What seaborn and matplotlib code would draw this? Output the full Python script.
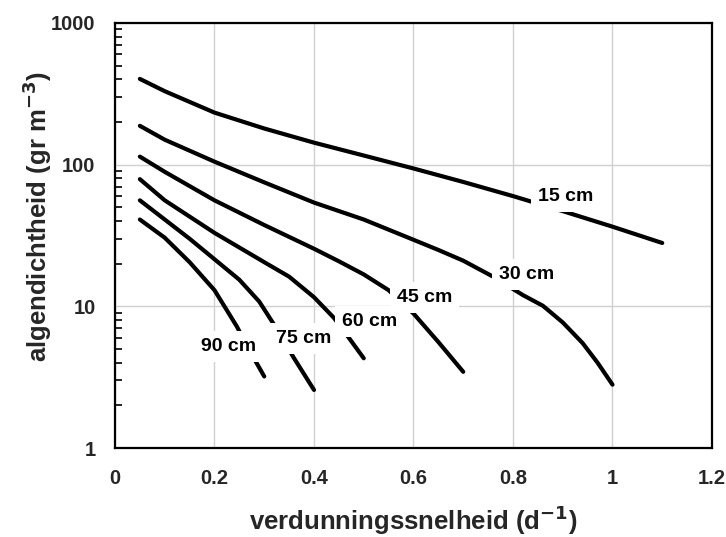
import matplotlib
matplotlib.use("Agg")
import matplotlib.pyplot as plt
import seaborn as sns
import pandas as pd
from matplotlib.ticker import FixedLocator, LogLocator, NullFormatter

# Algal density versus dilution rate for different pond depths
x15 = [0.05, 0.1, 0.2, 0.3, 0.4, 0.5, 0.6, 0.7, 0.8, 0.9, 1.0, 1.1]
y15 = [403, 330, 233, 180, 143, 116, 94, 75.5, 60, 47, 36.5, 28]

x30 = [0.05, 0.1, 0.2, 0.3, 0.4, 0.5, 0.6, 0.65, 0.7, 0.76, 0.82, 0.86, 0.9, 0.94, 0.97, 1.0]
y30 = [188, 150, 105, 75, 54, 41, 29.5, 25, 21, 16.2, 12.0, 10.1, 7.7, 5.5, 4.0, 2.8]

x45 = [0.05, 0.1, 0.2, 0.3, 0.4, 0.45, 0.5, 0.55, 0.6, 0.65, 0.7]
y45 = [114, 89, 56, 37.5, 25.5, 20.8, 16.8, 13, 8.9, 5.6, 3.45]

x60 = [0.05, 0.1, 0.15, 0.2, 0.3, 0.35, 0.4, 0.44, 0.47, 0.5]
y60 = [79, 56, 43, 33, 20.5, 16.2, 11.6, 8.3, 6.0, 4.3]

x75 = [0.05, 0.1, 0.15, 0.2, 0.25, 0.29, 0.32, 0.36, 0.4]
y75 = [56, 41, 30, 21.5, 15.4, 10.8, 7.4, 4.3, 2.57]

x90 = [0.05, 0.1, 0.15, 0.2, 0.22, 0.245, 0.27, 0.3]
y90 = [41, 30.5, 20.5, 13, 10, 7.2, 4.9, 3.2]

depths = ["15 cm", "30 cm", "45 cm", "60 cm", "75 cm", "90 cm"]
label_x = [0.905, 0.827, 0.623, 0.511, 0.379, 0.229]
label_y = [59.4, 16.7, 11.6, 7.8, 5.95, 5.2]

xticks = [0, 0.2, 0.4, 0.6, 0.8, 1.0, 1.2]
xticklabels = ["0", "0.2", "0.4", "0.6", "0.8", "1", "1.2"]
yticks = [1, 10, 100, 1000]
yticklabels = ["1", "10", "100", "1000"]

series = [(x15, y15), (x30, y30), (x45, y45), (x60, y60), (x75, y75), (x90, y90)]
df = pd.concat(
    [pd.DataFrame({"D": xs, "X": ys, "diepte": d}) for d, (xs, ys) in zip(depths, series)],
    ignore_index=True,
)

sns.set_theme(style="white")
plt.rcParams["font.family"] = ["Liberation Sans", "DejaVu Sans"]
plt.rcParams["font.weight"] = "bold"

fig = plt.figure(figsize=(7.26, 5.37), dpi=100)
ax = fig.add_axes([0.1584, 0.1657, 0.8223, 0.7915])

sns.lineplot(
    data=df, x="D", y="X", units="diepte", estimator=None, sort=False,
    color="black", lw=3.0, ax=ax, legend=False,
    solid_capstyle="round", solid_joinstyle="round", zorder=3,
)

ax.set_yscale("log")
ax.set_xlim(0, 1.2)
ax.set_ylim(1, 1000)

ax.set_xticks(xticks)
ax.set_xticklabels(xticklabels)
ax.yaxis.set_major_locator(FixedLocator(yticks))
ax.set_yticklabels(yticklabels)
ax.yaxis.set_minor_locator(LogLocator(base=10, subs=range(2, 10)))
ax.yaxis.set_minor_formatter(NullFormatter())

ax.grid(True, which="major", color="#d0d0d0", lw=1.0, zorder=0)
ax.grid(False, which="minor")
ax.set_axisbelow(True)

ax.tick_params(axis="x", which="both", length=0, pad=15, labelsize=14.5)
ax.tick_params(axis="y", which="major", direction="in", length=0, pad=14, labelsize=14.5, left=True)
ax.tick_params(axis="y", which="minor", direction="in", length=5, width=1.2, color="black", left=True)
for lab in ax.get_xticklabels() + ax.get_yticklabels():
    lab.set_fontweight("bold")

for sp in ax.spines.values():
    sp.set_visible(True)
    sp.set_color("black")
    sp.set_linewidth(1.6)

for txt, lx, ly in zip(depths, label_x, label_y):
    ax.text(lx, ly, txt, ha="center", va="center", fontsize=14, fontweight="bold",
            color="black", zorder=5,
            bbox=dict(boxstyle="square,pad=0.35", fc="white", ec="none"))

ax.set_xlabel(r"verdunningssnelheid (d$^{\mathbf{-1}}$)", fontsize=18.5, fontweight="bold")
ax.set_ylabel(r"algendichtheid (gr m$^{\mathbf{-3}}$)", fontsize=18.5, fontweight="bold")
ax.xaxis.set_label_coords(0.5, -0.13)
ax.yaxis.set_label_coords(-0.102, 0.545)

fig.savefig("out.png", dpi=100, facecolor="white")
